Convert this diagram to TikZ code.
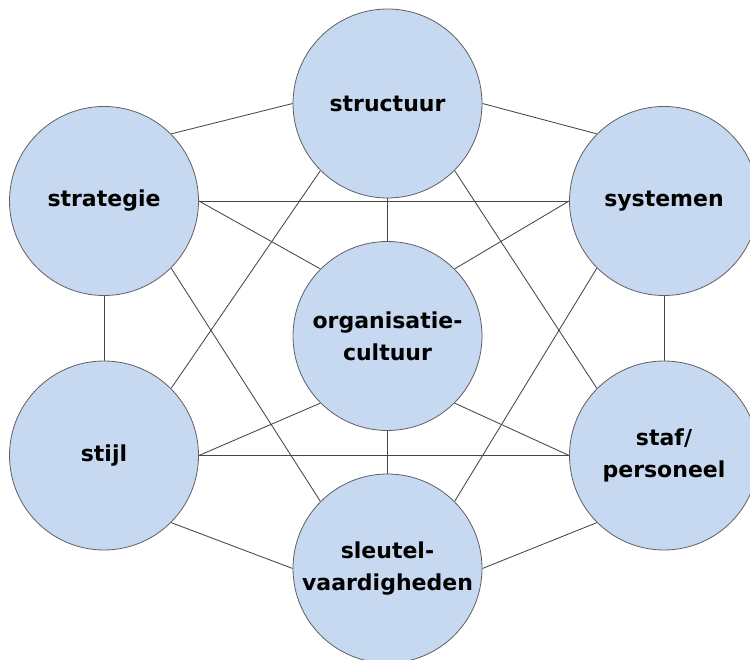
\documentclass[tikz,border=0pt]{standalone}
\usepackage{fontspec}
\setmainfont{DejaVu Sans}
\usetikzlibrary{backgrounds}
\definecolor{circfill}{RGB}{198,217,240}
\definecolor{circline}{RGB}{95,95,100}
\definecolor{linkline}{RGB}{70,70,70}
\tikzset{
  sbox/.style={circle, draw=circline, line width=0.8pt, fill=circfill, inner sep=0pt,
    minimum size=189pt, font=\fontsize{22}{32}\selectfont\bfseries, align=center},
  link/.style={draw=linkline, line width=0.85pt}
}
\begin{document}
\begin{tikzpicture}[x=1pt,y=-1pt]
\clip (0,0) rectangle (750,660);
\node[sbox] (structuur) at (387.5,103.5) {structuur};
\node[sbox] (strategie) at (104,201) {strategie};
\node[sbox] (systemen) at (664,201) {systemen};
\node[sbox] (cultuur) at (387.5,336) {organisatie-\\cultuur};
\node[sbox] (stijl) at (104,455.5) {stijl};
\node[sbox] (staf) at (664,455.5) {staf/\\personeel};
\node[sbox] (sleutel) at (387.5,568.5) {sleutel-\\vaardigheden};
\begin{pgfonlayer}{background}
\foreach \a/\b in {strategie.45/structuur.180, structuur.0/systemen.135,
  strategie.0/systemen.180, strategie.0/cultuur.135, systemen.180/cultuur.45,
  strategie.315/sleutel.135, systemen.225/sleutel.45,
  strategie.270/stijl.90, systemen.270/staf.90,
  structuur.270/cultuur.90, cultuur.270/sleutel.90,
  structuur.225/stijl.45, structuur.315/staf.135,
  stijl.0/cultuur.225, staf.180/cultuur.315, stijl.0/staf.180,
  stijl.315/sleutel.180, staf.225/sleutel.0}
  \draw[link] (\a) -- (\b);
\end{pgfonlayer}
\end{tikzpicture}
\end{document}
